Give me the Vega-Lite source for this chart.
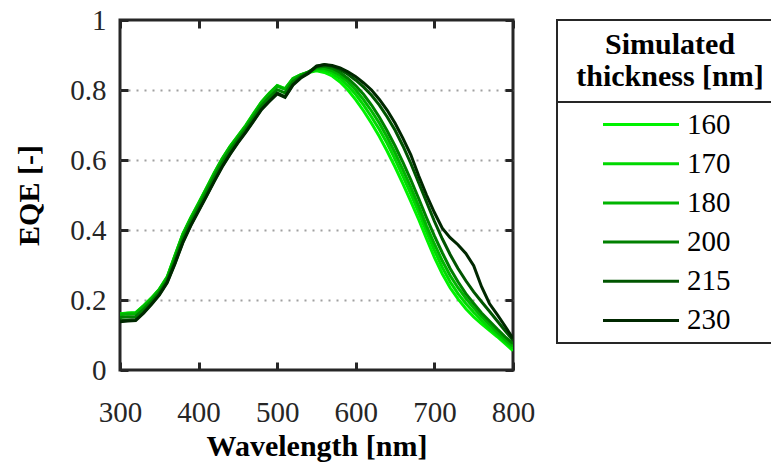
{
  "$schema": "https://vega.github.io/schema/vega-lite/v6.json",
  "padding": {"left": 13, "top": 4, "right": 0, "bottom": 5},
  "config": {"font": "Liberation Serif", "view": {"stroke": null}},
  "spacing": 44,
  "bounds": "flush",
  "hconcat": [
    {
      "width": 393,
      "height": 350,
      "view": {"stroke": "#262626", "strokeWidth": 3},
      "data": {"values": [
{"wavelength":300,"thickness":"160","eqe":0.160},{"wavelength":310,"thickness":"160","eqe":0.162},{"wavelength":320,"thickness":"160","eqe":0.163},{"wavelength":330,"thickness":"160","eqe":0.183},{"wavelength":340,"thickness":"160","eqe":0.205},{"wavelength":350,"thickness":"160","eqe":0.230},{"wavelength":360,"thickness":"160","eqe":0.265},{"wavelength":370,"thickness":"160","eqe":0.327},{"wavelength":380,"thickness":"160","eqe":0.388},{"wavelength":390,"thickness":"160","eqe":0.434},{"wavelength":400,"thickness":"160","eqe":0.476},{"wavelength":410,"thickness":"160","eqe":0.519},{"wavelength":420,"thickness":"160","eqe":0.563},{"wavelength":430,"thickness":"160","eqe":0.603},{"wavelength":440,"thickness":"160","eqe":0.638},{"wavelength":450,"thickness":"160","eqe":0.668},{"wavelength":460,"thickness":"160","eqe":0.698},{"wavelength":470,"thickness":"160","eqe":0.732},{"wavelength":480,"thickness":"160","eqe":0.765},{"wavelength":490,"thickness":"160","eqe":0.790},{"wavelength":500,"thickness":"160","eqe":0.812},{"wavelength":510,"thickness":"160","eqe":0.803},{"wavelength":520,"thickness":"160","eqe":0.832},{"wavelength":530,"thickness":"160","eqe":0.843},{"wavelength":540,"thickness":"160","eqe":0.850},{"wavelength":550,"thickness":"160","eqe":0.855},{"wavelength":560,"thickness":"160","eqe":0.850},{"wavelength":570,"thickness":"160","eqe":0.840},{"wavelength":580,"thickness":"160","eqe":0.823},{"wavelength":590,"thickness":"160","eqe":0.800},{"wavelength":600,"thickness":"160","eqe":0.772},{"wavelength":610,"thickness":"160","eqe":0.740},{"wavelength":620,"thickness":"160","eqe":0.705},{"wavelength":630,"thickness":"160","eqe":0.667},{"wavelength":640,"thickness":"160","eqe":0.625},{"wavelength":650,"thickness":"160","eqe":0.580},{"wavelength":660,"thickness":"160","eqe":0.532},{"wavelength":670,"thickness":"160","eqe":0.482},{"wavelength":680,"thickness":"160","eqe":0.430},{"wavelength":690,"thickness":"160","eqe":0.375},{"wavelength":700,"thickness":"160","eqe":0.322},{"wavelength":710,"thickness":"160","eqe":0.275},{"wavelength":720,"thickness":"160","eqe":0.235},{"wavelength":730,"thickness":"160","eqe":0.203},{"wavelength":740,"thickness":"160","eqe":0.175},{"wavelength":750,"thickness":"160","eqe":0.152},{"wavelength":760,"thickness":"160","eqe":0.132},{"wavelength":770,"thickness":"160","eqe":0.113},{"wavelength":780,"thickness":"160","eqe":0.095},{"wavelength":790,"thickness":"160","eqe":0.075},{"wavelength":800,"thickness":"160","eqe":0.055},
{"wavelength":300,"thickness":"170","eqe":0.161},{"wavelength":310,"thickness":"170","eqe":0.163},{"wavelength":320,"thickness":"170","eqe":0.164},{"wavelength":330,"thickness":"170","eqe":0.184},{"wavelength":340,"thickness":"170","eqe":0.206},{"wavelength":350,"thickness":"170","eqe":0.231},{"wavelength":360,"thickness":"170","eqe":0.266},{"wavelength":370,"thickness":"170","eqe":0.328},{"wavelength":380,"thickness":"170","eqe":0.389},{"wavelength":390,"thickness":"170","eqe":0.435},{"wavelength":400,"thickness":"170","eqe":0.477},{"wavelength":410,"thickness":"170","eqe":0.520},{"wavelength":420,"thickness":"170","eqe":0.564},{"wavelength":430,"thickness":"170","eqe":0.604},{"wavelength":440,"thickness":"170","eqe":0.639},{"wavelength":450,"thickness":"170","eqe":0.669},{"wavelength":460,"thickness":"170","eqe":0.699},{"wavelength":470,"thickness":"170","eqe":0.733},{"wavelength":480,"thickness":"170","eqe":0.766},{"wavelength":490,"thickness":"170","eqe":0.791},{"wavelength":500,"thickness":"170","eqe":0.813},{"wavelength":510,"thickness":"170","eqe":0.804},{"wavelength":520,"thickness":"170","eqe":0.833},{"wavelength":530,"thickness":"170","eqe":0.844},{"wavelength":540,"thickness":"170","eqe":0.851},{"wavelength":550,"thickness":"170","eqe":0.858},{"wavelength":560,"thickness":"170","eqe":0.857},{"wavelength":570,"thickness":"170","eqe":0.848},{"wavelength":580,"thickness":"170","eqe":0.833},{"wavelength":590,"thickness":"170","eqe":0.812},{"wavelength":600,"thickness":"170","eqe":0.787},{"wavelength":610,"thickness":"170","eqe":0.757},{"wavelength":620,"thickness":"170","eqe":0.723},{"wavelength":630,"thickness":"170","eqe":0.687},{"wavelength":640,"thickness":"170","eqe":0.647},{"wavelength":650,"thickness":"170","eqe":0.602},{"wavelength":660,"thickness":"170","eqe":0.553},{"wavelength":670,"thickness":"170","eqe":0.503},{"wavelength":680,"thickness":"170","eqe":0.450},{"wavelength":690,"thickness":"170","eqe":0.395},{"wavelength":700,"thickness":"170","eqe":0.342},{"wavelength":710,"thickness":"170","eqe":0.293},{"wavelength":720,"thickness":"170","eqe":0.252},{"wavelength":730,"thickness":"170","eqe":0.218},{"wavelength":740,"thickness":"170","eqe":0.190},{"wavelength":750,"thickness":"170","eqe":0.165},{"wavelength":760,"thickness":"170","eqe":0.142},{"wavelength":770,"thickness":"170","eqe":0.120},{"wavelength":780,"thickness":"170","eqe":0.100},{"wavelength":790,"thickness":"170","eqe":0.080},{"wavelength":800,"thickness":"170","eqe":0.062},
{"wavelength":300,"thickness":"180","eqe":0.158},{"wavelength":310,"thickness":"180","eqe":0.160},{"wavelength":320,"thickness":"180","eqe":0.161},{"wavelength":330,"thickness":"180","eqe":0.181},{"wavelength":340,"thickness":"180","eqe":0.203},{"wavelength":350,"thickness":"180","eqe":0.229},{"wavelength":360,"thickness":"180","eqe":0.263},{"wavelength":370,"thickness":"180","eqe":0.325},{"wavelength":380,"thickness":"180","eqe":0.386},{"wavelength":390,"thickness":"180","eqe":0.432},{"wavelength":400,"thickness":"180","eqe":0.474},{"wavelength":410,"thickness":"180","eqe":0.517},{"wavelength":420,"thickness":"180","eqe":0.561},{"wavelength":430,"thickness":"180","eqe":0.602},{"wavelength":440,"thickness":"180","eqe":0.637},{"wavelength":450,"thickness":"180","eqe":0.666},{"wavelength":460,"thickness":"180","eqe":0.696},{"wavelength":470,"thickness":"180","eqe":0.730},{"wavelength":480,"thickness":"180","eqe":0.763},{"wavelength":490,"thickness":"180","eqe":0.789},{"wavelength":500,"thickness":"180","eqe":0.811},{"wavelength":510,"thickness":"180","eqe":0.802},{"wavelength":520,"thickness":"180","eqe":0.831},{"wavelength":530,"thickness":"180","eqe":0.843},{"wavelength":540,"thickness":"180","eqe":0.852},{"wavelength":550,"thickness":"180","eqe":0.862},{"wavelength":560,"thickness":"180","eqe":0.862},{"wavelength":570,"thickness":"180","eqe":0.855},{"wavelength":580,"thickness":"180","eqe":0.842},{"wavelength":590,"thickness":"180","eqe":0.823},{"wavelength":600,"thickness":"180","eqe":0.800},{"wavelength":610,"thickness":"180","eqe":0.772},{"wavelength":620,"thickness":"180","eqe":0.740},{"wavelength":630,"thickness":"180","eqe":0.705},{"wavelength":640,"thickness":"180","eqe":0.665},{"wavelength":650,"thickness":"180","eqe":0.620},{"wavelength":660,"thickness":"180","eqe":0.572},{"wavelength":670,"thickness":"180","eqe":0.522},{"wavelength":680,"thickness":"180","eqe":0.468},{"wavelength":690,"thickness":"180","eqe":0.412},{"wavelength":700,"thickness":"180","eqe":0.360},{"wavelength":710,"thickness":"180","eqe":0.312},{"wavelength":720,"thickness":"180","eqe":0.270},{"wavelength":730,"thickness":"180","eqe":0.235},{"wavelength":740,"thickness":"180","eqe":0.205},{"wavelength":750,"thickness":"180","eqe":0.178},{"wavelength":760,"thickness":"180","eqe":0.153},{"wavelength":770,"thickness":"180","eqe":0.130},{"wavelength":780,"thickness":"180","eqe":0.108},{"wavelength":790,"thickness":"180","eqe":0.087},{"wavelength":800,"thickness":"180","eqe":0.068},
{"wavelength":300,"thickness":"200","eqe":0.150},{"wavelength":310,"thickness":"200","eqe":0.152},{"wavelength":320,"thickness":"200","eqe":0.153},{"wavelength":330,"thickness":"200","eqe":0.173},{"wavelength":340,"thickness":"200","eqe":0.196},{"wavelength":350,"thickness":"200","eqe":0.222},{"wavelength":360,"thickness":"200","eqe":0.257},{"wavelength":370,"thickness":"200","eqe":0.315},{"wavelength":380,"thickness":"200","eqe":0.377},{"wavelength":390,"thickness":"200","eqe":0.424},{"wavelength":400,"thickness":"200","eqe":0.465},{"wavelength":410,"thickness":"200","eqe":0.508},{"wavelength":420,"thickness":"200","eqe":0.552},{"wavelength":430,"thickness":"200","eqe":0.593},{"wavelength":440,"thickness":"200","eqe":0.628},{"wavelength":450,"thickness":"200","eqe":0.659},{"wavelength":460,"thickness":"200","eqe":0.689},{"wavelength":470,"thickness":"200","eqe":0.722},{"wavelength":480,"thickness":"200","eqe":0.755},{"wavelength":490,"thickness":"200","eqe":0.779},{"wavelength":500,"thickness":"200","eqe":0.801},{"wavelength":510,"thickness":"200","eqe":0.792},{"wavelength":520,"thickness":"200","eqe":0.824},{"wavelength":530,"thickness":"200","eqe":0.839},{"wavelength":540,"thickness":"200","eqe":0.852},{"wavelength":550,"thickness":"200","eqe":0.865},{"wavelength":560,"thickness":"200","eqe":0.868},{"wavelength":570,"thickness":"200","eqe":0.862},{"wavelength":580,"thickness":"200","eqe":0.850},{"wavelength":590,"thickness":"200","eqe":0.833},{"wavelength":600,"thickness":"200","eqe":0.812},{"wavelength":610,"thickness":"200","eqe":0.787},{"wavelength":620,"thickness":"200","eqe":0.757},{"wavelength":630,"thickness":"200","eqe":0.722},{"wavelength":640,"thickness":"200","eqe":0.683},{"wavelength":650,"thickness":"200","eqe":0.640},{"wavelength":660,"thickness":"200","eqe":0.593},{"wavelength":670,"thickness":"200","eqe":0.543},{"wavelength":680,"thickness":"200","eqe":0.490},{"wavelength":690,"thickness":"200","eqe":0.435},{"wavelength":700,"thickness":"200","eqe":0.383},{"wavelength":710,"thickness":"200","eqe":0.335},{"wavelength":720,"thickness":"200","eqe":0.290},{"wavelength":730,"thickness":"200","eqe":0.252},{"wavelength":740,"thickness":"200","eqe":0.218},{"wavelength":750,"thickness":"200","eqe":0.190},{"wavelength":760,"thickness":"200","eqe":0.163},{"wavelength":770,"thickness":"200","eqe":0.140},{"wavelength":780,"thickness":"200","eqe":0.117},{"wavelength":790,"thickness":"200","eqe":0.095},{"wavelength":800,"thickness":"200","eqe":0.075},
{"wavelength":300,"thickness":"215","eqe":0.141},{"wavelength":310,"thickness":"215","eqe":0.143},{"wavelength":320,"thickness":"215","eqe":0.144},{"wavelength":330,"thickness":"215","eqe":0.164},{"wavelength":340,"thickness":"215","eqe":0.189},{"wavelength":350,"thickness":"215","eqe":0.216},{"wavelength":360,"thickness":"215","eqe":0.251},{"wavelength":370,"thickness":"215","eqe":0.306},{"wavelength":380,"thickness":"215","eqe":0.366},{"wavelength":390,"thickness":"215","eqe":0.414},{"wavelength":400,"thickness":"215","eqe":0.456},{"wavelength":410,"thickness":"215","eqe":0.498},{"wavelength":420,"thickness":"215","eqe":0.541},{"wavelength":430,"thickness":"215","eqe":0.582},{"wavelength":440,"thickness":"215","eqe":0.618},{"wavelength":450,"thickness":"215","eqe":0.651},{"wavelength":460,"thickness":"215","eqe":0.681},{"wavelength":470,"thickness":"215","eqe":0.713},{"wavelength":480,"thickness":"215","eqe":0.746},{"wavelength":490,"thickness":"215","eqe":0.769},{"wavelength":500,"thickness":"215","eqe":0.791},{"wavelength":510,"thickness":"215","eqe":0.781},{"wavelength":520,"thickness":"215","eqe":0.816},{"wavelength":530,"thickness":"215","eqe":0.836},{"wavelength":540,"thickness":"215","eqe":0.850},{"wavelength":550,"thickness":"215","eqe":0.868},{"wavelength":560,"thickness":"215","eqe":0.872},{"wavelength":570,"thickness":"215","eqe":0.868},{"wavelength":580,"thickness":"215","eqe":0.858},{"wavelength":590,"thickness":"215","eqe":0.845},{"wavelength":600,"thickness":"215","eqe":0.828},{"wavelength":610,"thickness":"215","eqe":0.808},{"wavelength":620,"thickness":"215","eqe":0.785},{"wavelength":630,"thickness":"215","eqe":0.757},{"wavelength":640,"thickness":"215","eqe":0.723},{"wavelength":650,"thickness":"215","eqe":0.685},{"wavelength":660,"thickness":"215","eqe":0.640},{"wavelength":670,"thickness":"215","eqe":0.590},{"wavelength":680,"thickness":"215","eqe":0.535},{"wavelength":690,"thickness":"215","eqe":0.480},{"wavelength":700,"thickness":"215","eqe":0.425},{"wavelength":710,"thickness":"215","eqe":0.375},{"wavelength":720,"thickness":"215","eqe":0.330},{"wavelength":730,"thickness":"215","eqe":0.290},{"wavelength":740,"thickness":"215","eqe":0.255},{"wavelength":750,"thickness":"215","eqe":0.223},{"wavelength":760,"thickness":"215","eqe":0.195},{"wavelength":770,"thickness":"215","eqe":0.168},{"wavelength":780,"thickness":"215","eqe":0.140},{"wavelength":790,"thickness":"215","eqe":0.112},{"wavelength":800,"thickness":"215","eqe":0.085},
{"wavelength":300,"thickness":"230","eqe":0.138},{"wavelength":310,"thickness":"230","eqe":0.140},{"wavelength":320,"thickness":"230","eqe":0.141},{"wavelength":330,"thickness":"230","eqe":0.162},{"wavelength":340,"thickness":"230","eqe":0.187},{"wavelength":350,"thickness":"230","eqe":0.214},{"wavelength":360,"thickness":"230","eqe":0.249},{"wavelength":370,"thickness":"230","eqe":0.304},{"wavelength":380,"thickness":"230","eqe":0.364},{"wavelength":390,"thickness":"230","eqe":0.412},{"wavelength":400,"thickness":"230","eqe":0.454},{"wavelength":410,"thickness":"230","eqe":0.496},{"wavelength":420,"thickness":"230","eqe":0.539},{"wavelength":430,"thickness":"230","eqe":0.580},{"wavelength":440,"thickness":"230","eqe":0.616},{"wavelength":450,"thickness":"230","eqe":0.649},{"wavelength":460,"thickness":"230","eqe":0.679},{"wavelength":470,"thickness":"230","eqe":0.711},{"wavelength":480,"thickness":"230","eqe":0.744},{"wavelength":490,"thickness":"230","eqe":0.767},{"wavelength":500,"thickness":"230","eqe":0.789},{"wavelength":510,"thickness":"230","eqe":0.779},{"wavelength":520,"thickness":"230","eqe":0.814},{"wavelength":530,"thickness":"230","eqe":0.834},{"wavelength":540,"thickness":"230","eqe":0.848},{"wavelength":550,"thickness":"230","eqe":0.868},{"wavelength":560,"thickness":"230","eqe":0.873},{"wavelength":570,"thickness":"230","eqe":0.870},{"wavelength":580,"thickness":"230","eqe":0.863},{"wavelength":590,"thickness":"230","eqe":0.852},{"wavelength":600,"thickness":"230","eqe":0.838},{"wavelength":610,"thickness":"230","eqe":0.820},{"wavelength":620,"thickness":"230","eqe":0.800},{"wavelength":630,"thickness":"230","eqe":0.773},{"wavelength":640,"thickness":"230","eqe":0.742},{"wavelength":650,"thickness":"230","eqe":0.705},{"wavelength":660,"thickness":"230","eqe":0.662},{"wavelength":670,"thickness":"230","eqe":0.615},{"wavelength":680,"thickness":"230","eqe":0.555},{"wavelength":690,"thickness":"230","eqe":0.500},{"wavelength":700,"thickness":"230","eqe":0.450},{"wavelength":710,"thickness":"230","eqe":0.405},{"wavelength":720,"thickness":"230","eqe":0.378},{"wavelength":730,"thickness":"230","eqe":0.358},{"wavelength":740,"thickness":"230","eqe":0.333},{"wavelength":750,"thickness":"230","eqe":0.298},{"wavelength":760,"thickness":"230","eqe":0.238},{"wavelength":770,"thickness":"230","eqe":0.190},{"wavelength":780,"thickness":"230","eqe":0.158},{"wavelength":790,"thickness":"230","eqe":0.125},{"wavelength":800,"thickness":"230","eqe":0.090}
      ]},
      "layer": [
        {
          "mark": {"type": "line", "strokeWidth": 3, "clip": true},
          "encoding": {
            "x": {"field": "wavelength", "type": "quantitative",
              "scale": {"domain": [300, 800], "nice": false},
              "axis": {"orient": "bottom", "values": [300, 400, 500, 600, 700, 800], "title": "Wavelength [nm]",
                "titleFontSize": 30, "titleFontWeight": "bold", "titleColor": "#000000", "titlePadding": 4,
                "labelFontSize": 29, "labelColor": "#262626", "labelPadding": 36, "labelFlush": false, "labelOverlap": false,
                "tickSize": -8, "tickWidth": 3, "tickColor": "#262626", "domain": false, "grid": false}},
            "y": {"field": "eqe", "type": "quantitative",
              "scale": {"domain": [0, 1], "nice": false},
              "axis": {"orient": "left", "values": [0, 0.2, 0.4, 0.6, 0.8, 1], "format": "~g", "title": "EQE [-]",
                "titleFontSize": 30, "titleFontWeight": "bold", "titleColor": "#000000", "titlePadding": 25,
                "labelFontSize": 29, "labelColor": "#262626", "labelPadding": 22, "labelFlush": false, "labelOverlap": false,
                "tickSize": -8, "tickWidth": 3, "tickColor": "#262626", "domain": false,
                "grid": true, "gridColor": "#a0a0a0", "gridWidth": 2, "gridDash": [2, 6],
                "gridOpacity": {"condition": {"test": "datum.value === 0 || datum.value === 1", "value": 0}, "value": 1}}},
            "color": {"field": "thickness", "type": "nominal", "legend": null,
              "scale": {"domain": ["160", "170", "180", "200", "215", "230"],
                "range": ["#00f200", "#00d800", "#00b400", "#008000", "#005500", "#002800"]}}
          }
        },
        {
          "mark": {"type": "line", "opacity": 0},
          "encoding": {
            "x": {"field": "wavelength", "type": "quantitative",
              "axis": {"orient": "top", "values": [300, 400, 500, 600, 700, 800], "title": null, "labels": false,
                "tickSize": -8, "tickWidth": 3, "tickColor": "#262626", "domain": false, "grid": false}},
            "y": {"field": "eqe", "type": "quantitative",
              "axis": {"orient": "right", "values": [0, 0.2, 0.4, 0.6, 0.8, 1], "title": null, "labels": false,
                "tickSize": -8, "tickWidth": 3, "tickColor": "#262626", "domain": false, "grid": false}},
            "detail": {"field": "thickness", "type": "nominal"}
          }
        }
      ],
      "resolve": {"axis": {"x": "independent", "y": "independent"}}
    },
    {
      "spacing": 0,
      "bounds": "flush",
      "vconcat": [
        {
          "width": 226,
          "height": 82,
          "view": {"stroke": "#262626", "strokeWidth": 2},
          "data": {"values": [{"line": "Simulated"}, {"line": "thickness [nm]"}]},
          "mark": {"type": "text", "fontSize": 30, "fontWeight": "bold", "color": "#000000", "baseline": "middle"},
          "encoding": {
            "y": {"field": "line", "type": "ordinal", "sort": null, "axis": null, "scale": {"type": "point", "padding": 0.82}},
            "text": {"field": "line"}
          }
        },
        {
          "width": 226,
          "height": 241,
          "view": {"stroke": "#262626", "strokeWidth": 2},
          "data": {"values": [{"thickness": "160"}, {"thickness": "170"}, {"thickness": "180"}, {"thickness": "200"}, {"thickness": "215"}, {"thickness": "230"}]},
          "encoding": {
            "y": {"field": "thickness", "type": "ordinal", "sort": null, "axis": null, "scale": {"type": "point", "padding": 0.575}}
          },
          "layer": [
            {
              "mark": {"type": "point", "shape": "stroke", "size": 5776, "strokeWidth": 3, "opacity": 1, "xOffset": -29},
              "encoding": {
                "color": {"field": "thickness", "type": "nominal", "legend": null,
                  "scale": {"domain": ["160", "170", "180", "200", "215", "230"],
                    "range": ["#00f200", "#00d800", "#00b400", "#008000", "#005500", "#002800"]}}
              }
            },
            {
              "mark": {"type": "text", "align": "left", "baseline": "middle", "dx": 17, "fontSize": 29, "color": "#000000"},
              "encoding": {"text": {"field": "thickness"}}
            }
          ]
        }
      ]
    }
  ]
}
